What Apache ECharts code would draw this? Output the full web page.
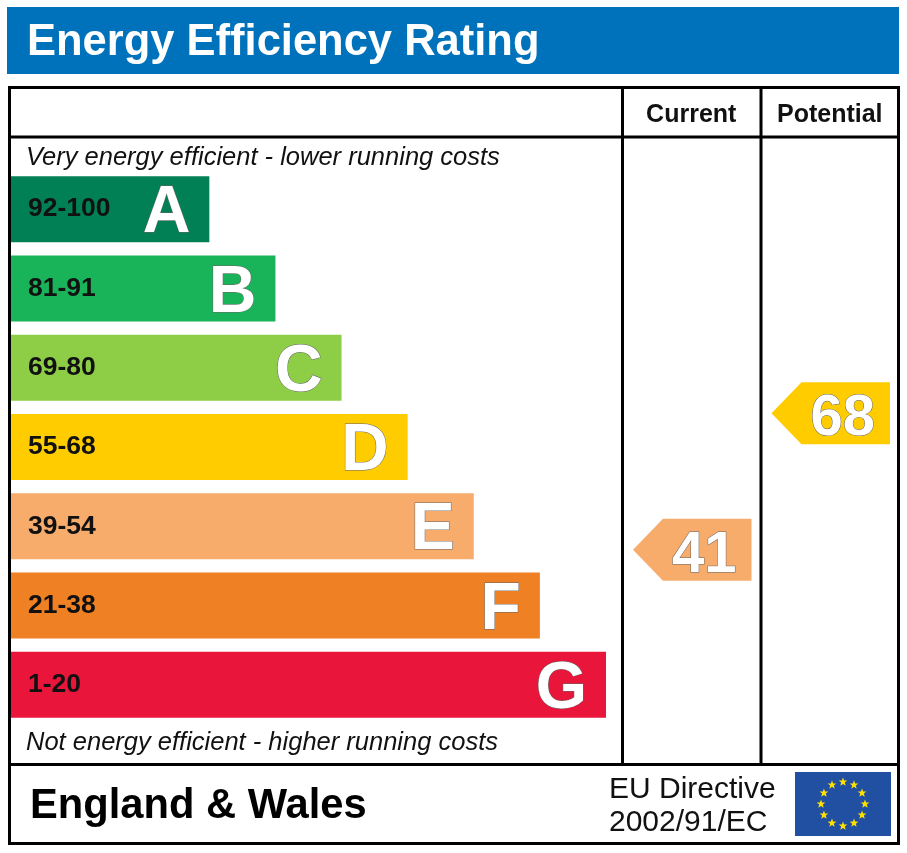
<!DOCTYPE html>
<html><head><meta charset="utf-8">
<script src="https://cdn.jsdelivr.net/npm/echarts@6/dist/echarts.min.js"></script>
<style>html,body{margin:0;padding:0;background:#fff}#chart{width:907px;height:853px}</style>
</head><body><div id="chart"></div>
<script>
const bandLetters = ['A', 'B', 'C', 'D', 'E', 'F', 'G'];
const bandRanges = ['92-100', '81-91', '69-80', '55-68', '39-54', '21-38', '1-20'];
const bandMins = [92, 81, 69, 55, 39, 21, 1];
const barLengths = [3, 4, 5, 6, 7, 8, 9];
const bandColors = ['#008054', '#19b459', '#8dce46', '#ffcc00', '#f8ac6b', '#ef8023', '#e9153b'];
const columnLabels = ['Current', 'Potential'];
const currentRating = 41;
const potentialRating = 68;

const FF = '"Liberation Sans", Arial, sans-serif';

function starPoints(cx, cy, R, r) {
  const pts = [];
  for (let i = 0; i < 10; i++) {
    const a = -Math.PI / 2 + i * Math.PI / 5;
    const rad = i % 2 === 0 ? R : r;
    pts.push([cx + rad * Math.cos(a), cy + rad * Math.sin(a)]);
  }
  return pts;
}
const flagStars = [];
for (let k = 0; k < 12; k++) {
  const a = k * Math.PI / 6;
  flagStars.push({
    type: 'polygon', z: 20,
    shape: { points: starPoints(843 + 22 * Math.sin(a), 804 - 22 * Math.cos(a), 4.6, 1.9) },
    style: { fill: '#ffe000' }
  });
}

const chart = echarts.init(document.getElementById('chart'), null, { renderer: 'canvas' });
chart.setOption({
  animation: false,
  backgroundColor: '#ffffff',
  grid: [
    { left: 11, top: 169.5, width: 595, height: 555 },
    { left: 622, top: 251.3, width: 277, height: 506 }
  ],
  xAxis: [
    { gridIndex: 0, type: 'value', min: 0, max: 9, show: false },
    {
      gridIndex: 1, type: 'category', data: columnLabels, position: 'top',
      axisLine: { show: false }, axisTick: { show: false }, splitLine: { show: false },
      axisLabel: { margin: 136.2, verticalAlign: 'middle', fontFamily: FF, fontWeight: 'bold', fontSize: 25, color: '#111' }
    }
  ],
  yAxis: [
    { gridIndex: 0, type: 'category', data: bandLetters, inverse: true, show: false },
    { gridIndex: 1, type: 'value', min: 0, max: 100, show: false }
  ],
  graphic: [
    { type: 'rect', shape: { x: 7, y: 7, width: 892, height: 67 }, style: { fill: '#0072bc' }, z: 10 },
    { type: 'text', x: 27, y: 43, z: 11, style: { text: 'Energy Efficiency Rating', fill: '#ffffff', font: 'bold 43.5px ' + FF, verticalAlign: 'middle' } },
    { type: 'rect', shape: { x: 9.5, y: 87.5, width: 889, height: 756 }, style: { fill: 'none', stroke: '#000', lineWidth: 3 }, z: 10 },
    { type: 'line', shape: { x1: 9, y1: 137, x2: 899, y2: 137 }, style: { stroke: '#000', lineWidth: 3 }, z: 10 },
    { type: 'line', shape: { x1: 9, y1: 764.5, x2: 899, y2: 764.5 }, style: { stroke: '#000', lineWidth: 3 }, z: 10 },
    { type: 'line', shape: { x1: 622.5, y1: 87, x2: 622.5, y2: 764.5 }, style: { stroke: '#000', lineWidth: 3 }, z: 10 },
    { type: 'line', shape: { x1: 761, y1: 87, x2: 761, y2: 764.5 }, style: { stroke: '#000', lineWidth: 3 }, z: 10 },
    { type: 'text', x: 26, y: 158.2, z: 11, style: { text: 'Very energy efficient - lower running costs', fill: '#111', font: 'italic 25.5px ' + FF, verticalAlign: 'middle' } },
    { type: 'text', x: 26, y: 743.4, z: 11, style: { text: 'Not energy efficient - higher running costs', fill: '#111', font: 'italic 25.5px ' + FF, verticalAlign: 'middle' } },
    { type: 'text', x: 30, y: 806.8, z: 11, style: { text: 'England & Wales', fill: '#000', font: 'bold 41.7px ' + FF, verticalAlign: 'middle' } },
    { type: 'text', x: 609, y: 789.3, z: 11, style: { text: 'EU Directive', fill: '#111', font: '30px ' + FF, verticalAlign: 'middle' } },
    { type: 'text', x: 609, y: 822.8, z: 11, style: { text: '2002/91/EC', fill: '#111', font: '30px ' + FF, verticalAlign: 'middle' } },
    { type: 'rect', shape: { x: 795, y: 772, width: 96, height: 64 }, style: { fill: '#2150a2' }, z: 19 }
  ].concat(flagStars),
  series: [
    {
      type: 'bar', xAxisIndex: 0, yAxisIndex: 0, barWidth: 66, silent: true,
      data: barLengths.map((v, i) => ({ value: v, itemStyle: { color: bandColors[i] } })),
      label: {
        show: true, position: 'insideLeft', distance: 17,
        formatter: p => bandRanges[p.dataIndex],
        fontFamily: FF, fontWeight: 'bold', fontSize: 26.5, color: '#111'
      }
    },
    {
      type: 'bar', xAxisIndex: 0, yAxisIndex: 0, barWidth: 66, barGap: '-100%', silent: true,
      data: barLengths.map(v => ({ value: v, itemStyle: { color: 'rgba(0,0,0,0)' } })),
      label: {
        show: true, position: 'insideRight', distance: 19, offset: [0, 5],
        formatter: p => bandLetters[p.dataIndex],
        fontFamily: FF, fontWeight: 'bold', fontSize: 66, color: '#ffffff',
        textBorderColor: '#666', textBorderWidth: 1
      }
    },
    {
      type: 'custom', xAxisIndex: 1, yAxisIndex: 1, silent: true,
      data: [[0, currentRating], [1, potentialRating]],
      renderItem: function (params, api) {
        const v = api.value(1);
        const c = api.coord([api.value(0), v]);
        const bw = api.size([1, 0])[0];
        const bl = c[0] - bw / 2;
        const y = c[1];
        const h = 31;
        const band = bandMins.findIndex(m => v >= m);
        return {
          type: 'group',
          children: [
            {
              type: 'polygon',
              shape: { points: [[bl + 11, y], [bl + 41, y - h], [bl + bw - 9, y - h], [bl + bw - 9, y + h], [bl + 41, y + h]] },
              style: { fill: bandColors[band] }
            },
            {
              type: 'text',
              style: {
                text: String(v), x: (bl + 41 + bl + bw - 9) / 2 - 3, y: y + 5.8,
                fill: '#ffffff', stroke: '#666', lineWidth: 1,
                font: 'bold 58px ' + FF, align: 'center', verticalAlign: 'middle'
              }
            }
          ]
        };
      }
    }
  ]
});
</script></body></html>
